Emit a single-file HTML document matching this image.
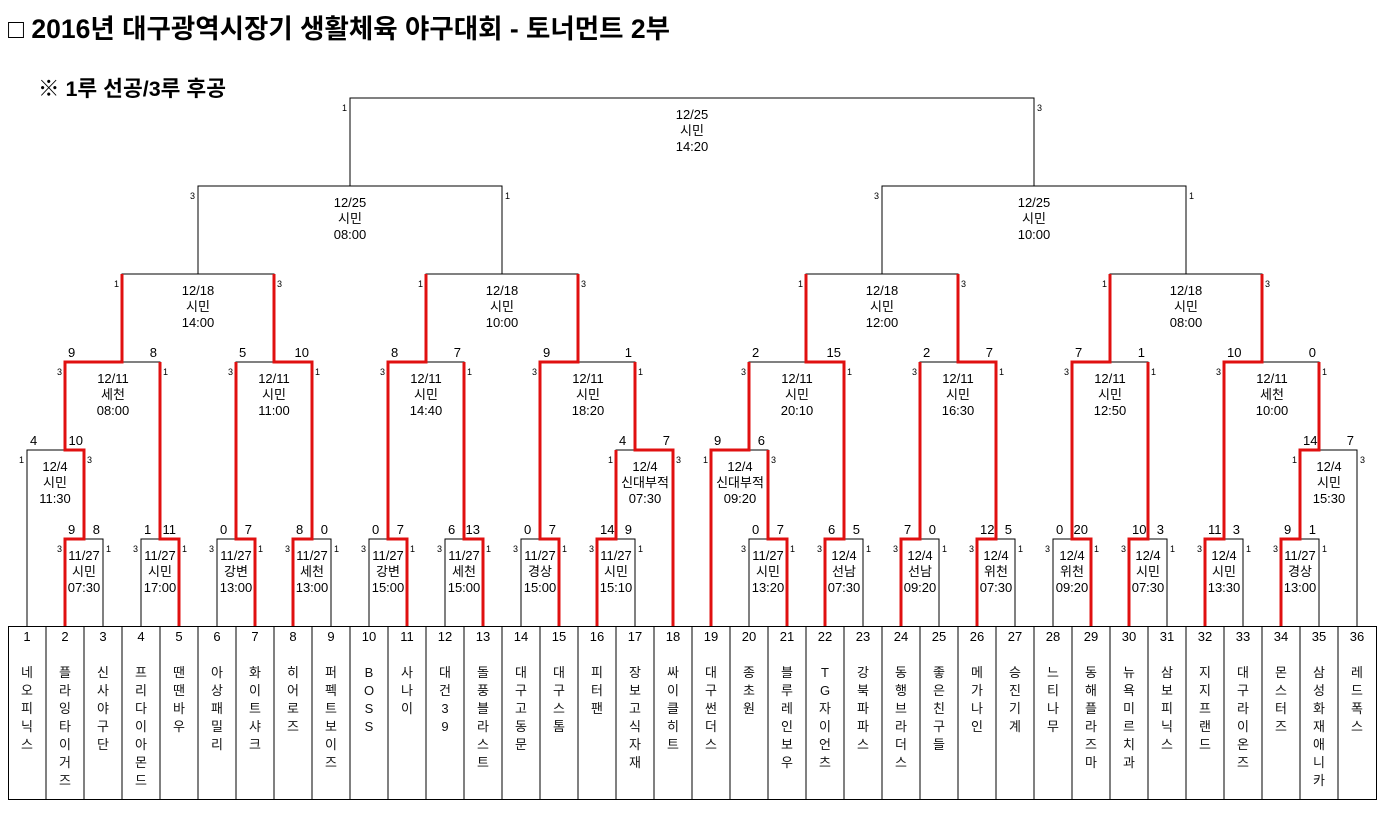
<!DOCTYPE html>
<html><head><meta charset="utf-8">
<style>
html,body{margin:0;padding:0;background:#fff;}
svg{display:block;font-family:"Liberation Sans","Noto Sans CJK KR",sans-serif;}
.t{font-size:13px;text-anchor:middle;fill:#000}
.s{font-size:13px;fill:#000}
.e{text-anchor:end}
.m{font-size:9px;fill:#000}
.n{font-size:13px;text-anchor:middle;fill:#111}
</style></head><body>
<svg width="1398" height="822" viewBox="0 0 1398 822" xmlns="http://www.w3.org/2000/svg">
<text x="8" y="38" style="font-size:26.5px;font-weight:bold">□ 2016년 대구광역시장기 생활체육 야구대회 - 토너먼트 2부</text>
<text x="38" y="96" style="font-size:21.5px;font-weight:bold">※ 1루 선공/3루 후공</text>

<g fill="none" stroke="#000" stroke-width="1">
<path d="M65 626V539H103V626M141 626V539H179V626M217 626V539H255V626M293 626V539H331V626M369 626V539H407V626M445 626V539H483V626M521 626V539H559V626M597 626V539H635V626M749 626V539H787V626M825 626V539H863V626M901 626V539H939V626M977 626V539H1015V626M1053 626V539H1091V626M1129 626V539H1167V626M1205 626V539H1243V626M1281 626V539H1319V626"/>
<path d="M27 626V450H84V539M616 539V450H673V626M711 626V450H768V539M1300 539V450H1357V626"/>
<path d="M65 450V362H160V539M236 539V362H312V539M388 539V362H464V539M540 539V362H635V450M749 450V362H844V539M920 539V362H996V539M1072 539V362H1148V539M1224 539V362H1319V450"/>
<path d="M122 362V274H274V362M426 362V274H578V362M806 362V274H958V362M1110 362V274H1262V362"/>
<path d="M198 274V186H502V274M882 274V186H1186V274M350 186V98H1034V186"/>
<rect x="8.5" y="626.5" width="1368" height="173"/>
<path d="M46 626V800M84 626V800M122 626V800M160 626V800M198 626V800M236 626V800M274 626V800M312 626V800M350 626V800M388 626V800M426 626V800M464 626V800M502 626V800M540 626V800M578 626V800M616 626V800M654 626V800M692 626V800M730 626V800M768 626V800M806 626V800M844 626V800M882 626V800M920 626V800M958 626V800M996 626V800M1034 626V800M1072 626V800M1110 626V800M1148 626V800M1186 626V800M1224 626V800M1262 626V800M1300 626V800M1338 626V800"/>
</g>

<g fill="none" stroke="#e01010" stroke-width="3" stroke-linejoin="miter">
<path d="M65 626V539H84V450H65V362H122V274"/>
<path d="M179 626V539H160V362"/>
<path d="M255 626V539H236V362"/>
<path d="M293 626V539H312V362H274V274"/>
<path d="M407 626V539H388V362H426V274"/>
<path d="M483 626V539H464V362"/>
<path d="M559 626V539H540V362H578V274"/>
<path d="M597 626V539H616V450"/>
<path d="M673 626V450H635V362"/>
<path d="M711 626V450H749V362"/>
<path d="M787 626V539H768V450"/>
<path d="M825 626V539H844V362H806V274"/>
<path d="M901 626V539H920V362"/>
<path d="M977 626V539H996V362H958V274"/>
<path d="M1091 626V539H1072V362H1110V274"/>
<path d="M1129 626V539H1148V362"/>
<path d="M1205 626V539H1224V362H1262V274"/>
<path d="M1281 626V539H1300V450H1319V362"/>
</g>

<g class="t">
<text x="84" y="560">11/27<tspan x="84" dy="16">시민</tspan><tspan x="84" dy="16">07:30</tspan></text>
<text x="160" y="560">11/27<tspan x="160" dy="16">시민</tspan><tspan x="160" dy="16">17:00</tspan></text>
<text x="236" y="560">11/27<tspan x="236" dy="16">강변</tspan><tspan x="236" dy="16">13:00</tspan></text>
<text x="312" y="560">11/27<tspan x="312" dy="16">세천</tspan><tspan x="312" dy="16">13:00</tspan></text>
<text x="388" y="560">11/27<tspan x="388" dy="16">강변</tspan><tspan x="388" dy="16">15:00</tspan></text>
<text x="464" y="560">11/27<tspan x="464" dy="16">세천</tspan><tspan x="464" dy="16">15:00</tspan></text>
<text x="540" y="560">11/27<tspan x="540" dy="16">경상</tspan><tspan x="540" dy="16">15:00</tspan></text>
<text x="616" y="560">11/27<tspan x="616" dy="16">시민</tspan><tspan x="616" dy="16">15:10</tspan></text>
<text x="768" y="560">11/27<tspan x="768" dy="16">시민</tspan><tspan x="768" dy="16">13:20</tspan></text>
<text x="844" y="560">12/4<tspan x="844" dy="16">선남</tspan><tspan x="844" dy="16">07:30</tspan></text>
<text x="920" y="560">12/4<tspan x="920" dy="16">선남</tspan><tspan x="920" dy="16">09:20</tspan></text>
<text x="996" y="560">12/4<tspan x="996" dy="16">위천</tspan><tspan x="996" dy="16">07:30</tspan></text>
<text x="1072" y="560">12/4<tspan x="1072" dy="16">위천</tspan><tspan x="1072" dy="16">09:20</tspan></text>
<text x="1148" y="560">12/4<tspan x="1148" dy="16">시민</tspan><tspan x="1148" dy="16">07:30</tspan></text>
<text x="1224" y="560">12/4<tspan x="1224" dy="16">시민</tspan><tspan x="1224" dy="16">13:30</tspan></text>
<text x="1300" y="560">11/27<tspan x="1300" dy="16">경상</tspan><tspan x="1300" dy="16">13:00</tspan></text>

<text x="55" y="471">12/4<tspan x="55" dy="16">시민</tspan><tspan x="55" dy="16">11:30</tspan></text>
<text x="645" y="471">12/4<tspan x="645" dy="16">신대부적</tspan><tspan x="645" dy="16">07:30</tspan></text>
<text x="740" y="471">12/4<tspan x="740" dy="16">신대부적</tspan><tspan x="740" dy="16">09:20</tspan></text>
<text x="1329" y="471">12/4<tspan x="1329" dy="16">시민</tspan><tspan x="1329" dy="16">15:30</tspan></text>

<text x="113" y="383">12/11<tspan x="113" dy="16">세천</tspan><tspan x="113" dy="16">08:00</tspan></text>
<text x="274" y="383">12/11<tspan x="274" dy="16">시민</tspan><tspan x="274" dy="16">11:00</tspan></text>
<text x="426" y="383">12/11<tspan x="426" dy="16">시민</tspan><tspan x="426" dy="16">14:40</tspan></text>
<text x="588" y="383">12/11<tspan x="588" dy="16">시민</tspan><tspan x="588" dy="16">18:20</tspan></text>
<text x="797" y="383">12/11<tspan x="797" dy="16">시민</tspan><tspan x="797" dy="16">20:10</tspan></text>
<text x="958" y="383">12/11<tspan x="958" dy="16">시민</tspan><tspan x="958" dy="16">16:30</tspan></text>
<text x="1110" y="383">12/11<tspan x="1110" dy="16">시민</tspan><tspan x="1110" dy="16">12:50</tspan></text>
<text x="1272" y="383">12/11<tspan x="1272" dy="16">세천</tspan><tspan x="1272" dy="16">10:00</tspan></text>

<text x="198" y="295">12/18<tspan x="198" dy="16">시민</tspan><tspan x="198" dy="16">14:00</tspan></text>
<text x="502" y="295">12/18<tspan x="502" dy="16">시민</tspan><tspan x="502" dy="16">10:00</tspan></text>
<text x="882" y="295">12/18<tspan x="882" dy="16">시민</tspan><tspan x="882" dy="16">12:00</tspan></text>
<text x="1186" y="295">12/18<tspan x="1186" dy="16">시민</tspan><tspan x="1186" dy="16">08:00</tspan></text>

<text x="350" y="207">12/25<tspan x="350" dy="16">시민</tspan><tspan x="350" dy="16">08:00</tspan></text>
<text x="1034" y="207">12/25<tspan x="1034" dy="16">시민</tspan><tspan x="1034" dy="16">10:00</tspan></text>
<text x="692" y="119">12/25<tspan x="692" dy="16">시민</tspan><tspan x="692" dy="16">14:20</tspan></text>
</g>

<g class="s">
<text x="68" y="534">9</text><text class="s e" x="100" y="534">8</text>
<text x="144" y="534">1</text><text class="s e" x="176" y="534">11</text>
<text x="220" y="534">0</text><text class="s e" x="252" y="534">7</text>
<text x="296" y="534">8</text><text class="s e" x="328" y="534">0</text>
<text x="372" y="534">0</text><text class="s e" x="404" y="534">7</text>
<text x="448" y="534">6</text><text class="s e" x="480" y="534">13</text>
<text x="524" y="534">0</text><text class="s e" x="556" y="534">7</text>
<text x="600" y="534">14</text><text class="s e" x="632" y="534">9</text>
<text x="752" y="534">0</text><text class="s e" x="784" y="534">7</text>
<text x="828" y="534">6</text><text class="s e" x="860" y="534">5</text>
<text x="904" y="534">7</text><text class="s e" x="936" y="534">0</text>
<text x="980" y="534">12</text><text class="s e" x="1012" y="534">5</text>
<text x="1056" y="534">0</text><text class="s e" x="1088" y="534">20</text>
<text x="1132" y="534">10</text><text class="s e" x="1164" y="534">3</text>
<text x="1208" y="534">11</text><text class="s e" x="1240" y="534">3</text>
<text x="1284" y="534">9</text><text class="s e" x="1316" y="534">1</text>

<text x="30" y="445">4</text><text class="s e" x="83" y="445">10</text>
<text x="619" y="445">4</text><text class="s e" x="670" y="445">7</text>
<text x="714" y="445">9</text><text class="s e" x="765" y="445">6</text>
<text x="1303" y="445">14</text><text class="s e" x="1354" y="445">7</text>

<text x="68" y="357">9</text><text class="s e" x="157" y="357">8</text>
<text x="239" y="357">5</text><text class="s e" x="309" y="357">10</text>
<text x="391" y="357">8</text><text class="s e" x="461" y="357">7</text>
<text x="543" y="357">9</text><text class="s e" x="632" y="357">1</text>
<text x="752" y="357">2</text><text class="s e" x="841" y="357">15</text>
<text x="923" y="357">2</text><text class="s e" x="993" y="357">7</text>
<text x="1075" y="357">7</text><text class="s e" x="1145" y="357">1</text>
<text x="1227" y="357">10</text><text class="s e" x="1316" y="357">0</text>
</g>

<g class="m">
<g text-anchor="end">
<text x="62" y="552">3</text><text x="138" y="552">3</text><text x="214" y="552">3</text><text x="290" y="552">3</text><text x="366" y="552">3</text><text x="442" y="552">3</text><text x="518" y="552">3</text><text x="594" y="552">3</text><text x="746" y="552">3</text><text x="822" y="552">3</text><text x="898" y="552">3</text><text x="974" y="552">3</text><text x="1050" y="552">3</text><text x="1126" y="552">3</text><text x="1202" y="552">3</text><text x="1278" y="552">3</text>
<text x="24" y="463">1</text><text x="613" y="463">1</text><text x="708" y="463">1</text><text x="1297" y="463">1</text>
<text x="62" y="375">3</text><text x="233" y="375">3</text><text x="385" y="375">3</text><text x="537" y="375">3</text><text x="746" y="375">3</text><text x="917" y="375">3</text><text x="1069" y="375">3</text><text x="1221" y="375">3</text>
<text x="119" y="287">1</text><text x="423" y="287">1</text><text x="803" y="287">1</text><text x="1107" y="287">1</text>
<text x="195" y="199">3</text><text x="879" y="199">3</text>
<text x="347" y="111">1</text>
</g>
<text x="106" y="552">1</text><text x="182" y="552">1</text><text x="258" y="552">1</text><text x="334" y="552">1</text><text x="410" y="552">1</text><text x="486" y="552">1</text><text x="562" y="552">1</text><text x="638" y="552">1</text><text x="790" y="552">1</text><text x="866" y="552">1</text><text x="942" y="552">1</text><text x="1018" y="552">1</text><text x="1094" y="552">1</text><text x="1170" y="552">1</text><text x="1246" y="552">1</text><text x="1322" y="552">1</text>
<text x="87" y="463">3</text><text x="676" y="463">3</text><text x="771" y="463">3</text><text x="1360" y="463">3</text>
<text x="163" y="375">1</text><text x="315" y="375">1</text><text x="467" y="375">1</text><text x="638" y="375">1</text><text x="847" y="375">1</text><text x="999" y="375">1</text><text x="1151" y="375">1</text><text x="1322" y="375">1</text>
<text x="277" y="287">3</text><text x="581" y="287">3</text><text x="961" y="287">3</text><text x="1265" y="287">3</text>
<text x="505" y="199">1</text><text x="1189" y="199">1</text>
<text x="1037" y="111">3</text>
</g>

<g class="t">
<text x="27" y="641">1</text><text x="65" y="641">2</text><text x="103" y="641">3</text><text x="141" y="641">4</text><text x="179" y="641">5</text><text x="217" y="641">6</text><text x="255" y="641">7</text><text x="293" y="641">8</text><text x="331" y="641">9</text><text x="369" y="641">10</text><text x="407" y="641">11</text><text x="445" y="641">12</text><text x="483" y="641">13</text><text x="521" y="641">14</text><text x="559" y="641">15</text><text x="597" y="641">16</text><text x="635" y="641">17</text><text x="673" y="641">18</text><text x="711" y="641">19</text><text x="749" y="641">20</text><text x="787" y="641">21</text><text x="825" y="641">22</text><text x="863" y="641">23</text><text x="901" y="641">24</text><text x="939" y="641">25</text><text x="977" y="641">26</text><text x="1015" y="641">27</text><text x="1053" y="641">28</text><text x="1091" y="641">29</text><text x="1129" y="641">30</text><text x="1167" y="641">31</text><text x="1205" y="641">32</text><text x="1243" y="641">33</text><text x="1281" y="641">34</text><text x="1319" y="641">35</text><text x="1357" y="641">36</text>
</g>

<g class="n">
<text x="27" y="677">네<tspan x="27" dy="18">오</tspan><tspan x="27" dy="18">피</tspan><tspan x="27" dy="18">닉</tspan><tspan x="27" dy="18">스</tspan></text>
<text x="65" y="677">플<tspan x="65" dy="18">라</tspan><tspan x="65" dy="18">잉</tspan><tspan x="65" dy="18">타</tspan><tspan x="65" dy="18">이</tspan><tspan x="65" dy="18">거</tspan><tspan x="65" dy="18">즈</tspan></text>
<text x="103" y="677">신<tspan x="103" dy="18">사</tspan><tspan x="103" dy="18">야</tspan><tspan x="103" dy="18">구</tspan><tspan x="103" dy="18">단</tspan></text>
<text x="141" y="677">프<tspan x="141" dy="18">리</tspan><tspan x="141" dy="18">다</tspan><tspan x="141" dy="18">이</tspan><tspan x="141" dy="18">아</tspan><tspan x="141" dy="18">몬</tspan><tspan x="141" dy="18">드</tspan></text>
<text x="179" y="677">땐<tspan x="179" dy="18">땐</tspan><tspan x="179" dy="18">바</tspan><tspan x="179" dy="18">우</tspan></text>
<text x="217" y="677">아<tspan x="217" dy="18">상</tspan><tspan x="217" dy="18">패</tspan><tspan x="217" dy="18">밀</tspan><tspan x="217" dy="18">리</tspan></text>
<text x="255" y="677">화<tspan x="255" dy="18">이</tspan><tspan x="255" dy="18">트</tspan><tspan x="255" dy="18">샤</tspan><tspan x="255" dy="18">크</tspan></text>
<text x="293" y="677">히<tspan x="293" dy="18">어</tspan><tspan x="293" dy="18">로</tspan><tspan x="293" dy="18">즈</tspan></text>
<text x="331" y="677">퍼<tspan x="331" dy="18">펙</tspan><tspan x="331" dy="18">트</tspan><tspan x="331" dy="18">보</tspan><tspan x="331" dy="18">이</tspan><tspan x="331" dy="18">즈</tspan></text>
<text x="369" y="677">B<tspan x="369" dy="18">O</tspan><tspan x="369" dy="18">S</tspan><tspan x="369" dy="18">S</tspan></text>
<text x="407" y="677">사<tspan x="407" dy="18">나</tspan><tspan x="407" dy="18">이</tspan></text>
<text x="445" y="677">대<tspan x="445" dy="18">건</tspan><tspan x="445" dy="18">3</tspan><tspan x="445" dy="18">9</tspan></text>
<text x="483" y="677">돌<tspan x="483" dy="18">풍</tspan><tspan x="483" dy="18">블</tspan><tspan x="483" dy="18">라</tspan><tspan x="483" dy="18">스</tspan><tspan x="483" dy="18">트</tspan></text>
<text x="521" y="677">대<tspan x="521" dy="18">구</tspan><tspan x="521" dy="18">고</tspan><tspan x="521" dy="18">동</tspan><tspan x="521" dy="18">문</tspan></text>
<text x="559" y="677">대<tspan x="559" dy="18">구</tspan><tspan x="559" dy="18">스</tspan><tspan x="559" dy="18">톰</tspan></text>
<text x="597" y="677">피<tspan x="597" dy="18">터</tspan><tspan x="597" dy="18">팬</tspan></text>
<text x="635" y="677">장<tspan x="635" dy="18">보</tspan><tspan x="635" dy="18">고</tspan><tspan x="635" dy="18">식</tspan><tspan x="635" dy="18">자</tspan><tspan x="635" dy="18">재</tspan></text>
<text x="673" y="677">싸<tspan x="673" dy="18">이</tspan><tspan x="673" dy="18">클</tspan><tspan x="673" dy="18">히</tspan><tspan x="673" dy="18">트</tspan></text>
<text x="711" y="677">대<tspan x="711" dy="18">구</tspan><tspan x="711" dy="18">썬</tspan><tspan x="711" dy="18">더</tspan><tspan x="711" dy="18">스</tspan></text>
<text x="749" y="677">종<tspan x="749" dy="18">초</tspan><tspan x="749" dy="18">원</tspan></text>
<text x="787" y="677">블<tspan x="787" dy="18">루</tspan><tspan x="787" dy="18">레</tspan><tspan x="787" dy="18">인</tspan><tspan x="787" dy="18">보</tspan><tspan x="787" dy="18">우</tspan></text>
<text x="825" y="677">T<tspan x="825" dy="18">G</tspan><tspan x="825" dy="18">자</tspan><tspan x="825" dy="18">이</tspan><tspan x="825" dy="18">언</tspan><tspan x="825" dy="18">츠</tspan></text>
<text x="863" y="677">강<tspan x="863" dy="18">북</tspan><tspan x="863" dy="18">파</tspan><tspan x="863" dy="18">파</tspan><tspan x="863" dy="18">스</tspan></text>
<text x="901" y="677">동<tspan x="901" dy="18">행</tspan><tspan x="901" dy="18">브</tspan><tspan x="901" dy="18">라</tspan><tspan x="901" dy="18">더</tspan><tspan x="901" dy="18">스</tspan></text>
<text x="939" y="677">좋<tspan x="939" dy="18">은</tspan><tspan x="939" dy="18">친</tspan><tspan x="939" dy="18">구</tspan><tspan x="939" dy="18">들</tspan></text>
<text x="977" y="677">메<tspan x="977" dy="18">가</tspan><tspan x="977" dy="18">나</tspan><tspan x="977" dy="18">인</tspan></text>
<text x="1015" y="677">승<tspan x="1015" dy="18">진</tspan><tspan x="1015" dy="18">기</tspan><tspan x="1015" dy="18">계</tspan></text>
<text x="1053" y="677">느<tspan x="1053" dy="18">티</tspan><tspan x="1053" dy="18">나</tspan><tspan x="1053" dy="18">무</tspan></text>
<text x="1091" y="677">동<tspan x="1091" dy="18">해</tspan><tspan x="1091" dy="18">플</tspan><tspan x="1091" dy="18">라</tspan><tspan x="1091" dy="18">즈</tspan><tspan x="1091" dy="18">마</tspan></text>
<text x="1129" y="677">뉴<tspan x="1129" dy="18">욕</tspan><tspan x="1129" dy="18">미</tspan><tspan x="1129" dy="18">르</tspan><tspan x="1129" dy="18">치</tspan><tspan x="1129" dy="18">과</tspan></text>
<text x="1167" y="677">삼<tspan x="1167" dy="18">보</tspan><tspan x="1167" dy="18">피</tspan><tspan x="1167" dy="18">닉</tspan><tspan x="1167" dy="18">스</tspan></text>
<text x="1205" y="677">지<tspan x="1205" dy="18">지</tspan><tspan x="1205" dy="18">프</tspan><tspan x="1205" dy="18">랜</tspan><tspan x="1205" dy="18">드</tspan></text>
<text x="1243" y="677">대<tspan x="1243" dy="18">구</tspan><tspan x="1243" dy="18">라</tspan><tspan x="1243" dy="18">이</tspan><tspan x="1243" dy="18">온</tspan><tspan x="1243" dy="18">즈</tspan></text>
<text x="1281" y="677">몬<tspan x="1281" dy="18">스</tspan><tspan x="1281" dy="18">터</tspan><tspan x="1281" dy="18">즈</tspan></text>
<text x="1319" y="677">삼<tspan x="1319" dy="18">성</tspan><tspan x="1319" dy="18">화</tspan><tspan x="1319" dy="18">재</tspan><tspan x="1319" dy="18">애</tspan><tspan x="1319" dy="18">니</tspan><tspan x="1319" dy="18">카</tspan></text>
<text x="1357" y="677">레<tspan x="1357" dy="18">드</tspan><tspan x="1357" dy="18">폭</tspan><tspan x="1357" dy="18">스</tspan></text>
</g>
</svg>
</body></html>
